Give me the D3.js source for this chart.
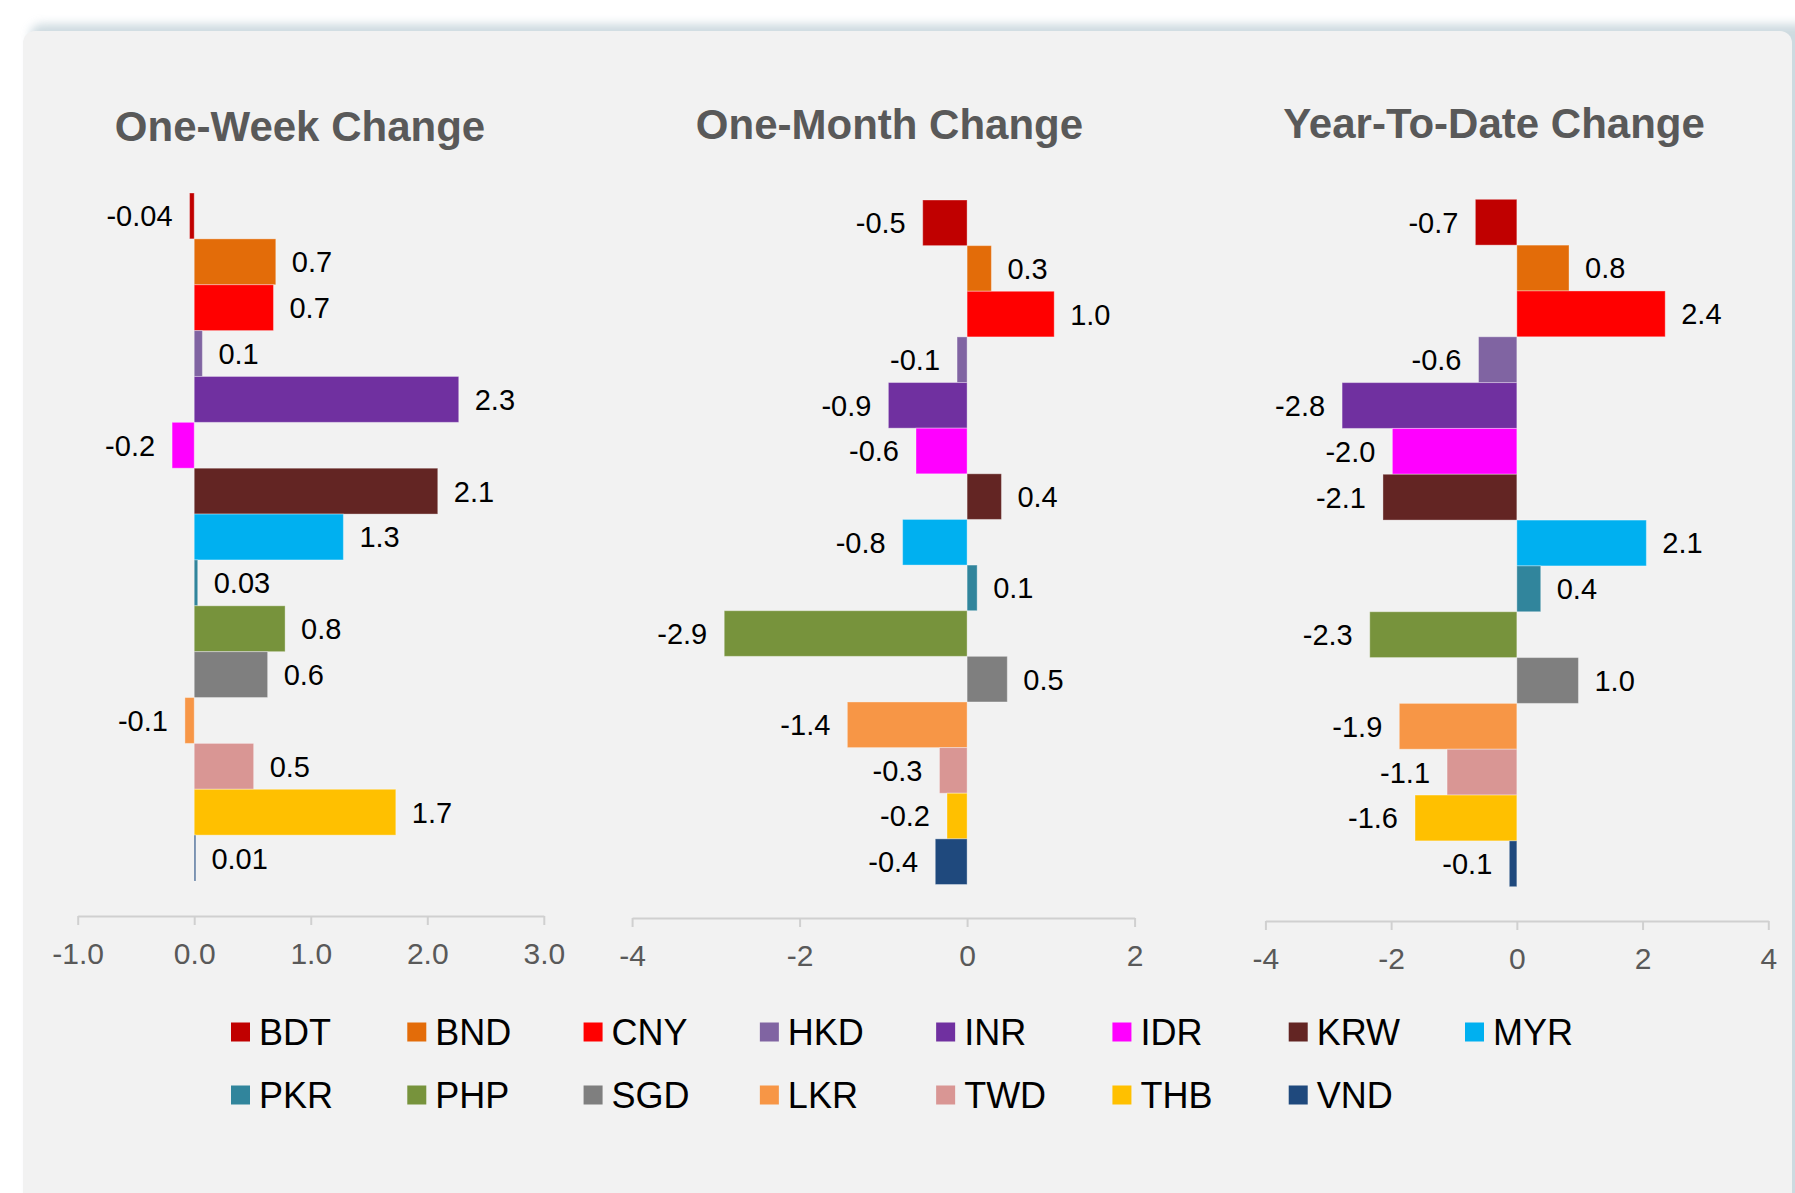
<!DOCTYPE html>
<html>
<head>
<meta charset="utf-8">
<script src="https://cdn.jsdelivr.net/npm/d3@7"></script>
<style>
  body { margin: 0; background: #fff; }
  svg text { font-family: "Liberation Sans", Arial, sans-serif; }
</style>
</head>
<body>
<svg width="1795" height="1193"></svg>
<script>
var currencies = ["BDT", "BND", "CNY", "HKD", "INR", "IDR", "KRW", "MYR", "PKR", "PHP", "SGD", "LKR", "TWD", "THB", "VND"];
var colors = ["#C00000", "#E36C09", "#FF0000", "#8064A2", "#7030A0", "#FF00FF", "#632523", "#00B0F0",
              "#31859C", "#77933C", "#7F7F7F", "#F79646", "#D99694", "#FFC000", "#1F497D"];

var weekChange  = [-0.04, 0.70, 0.68, 0.07, 2.27, -0.19, 2.09, 1.28, 0.03, 0.78, 0.63, -0.08, 0.51, 1.73, 0.01];
var monthChange = [-0.53, 0.29, 1.04, -0.12, -0.94, -0.61, 0.41, -0.77, 0.12, -2.90, 0.48, -1.43, -0.33, -0.24, -0.38];
var ytdChange   = [-0.66, 0.83, 2.36, -0.61, -2.78, -1.98, -2.13, 2.06, 0.38, -2.34, 0.98, -1.87, -1.11, -1.62, -0.12];

var titles = ["One-Week Change", "One-Month Change", "Year-To-Date Change"];
var weekTicks = [-1, 0, 1, 2, 3];
var monthTicks = [-4, -2, 0, 2];
var ytdTicks = [-4, -2, 0, 2, 4];

// plain hyphen for negatives, like the original
var loc = d3.formatLocale({decimal: ".", thousands: ",", grouping: [3], currency: ["", ""], minus: "-"});

var svg = d3.select("svg");
var defs = svg.append("defs");
defs.append("filter").attr("id", "blur")
  .attr("x", "-5%").attr("y", "-20%").attr("width", "110%").attr("height", "140%")
  .append("feGaussianBlur").attr("stdDeviation", 5);

// panel background with soft shadow on top
svg.append("rect").attr("x", 30).attr("y", 24).attr("width", 1800).attr("height", 1200)
  .attr("rx", 12).attr("fill", "#b9cbd3").attr("opacity", 0.7).attr("filter", "url(#blur)");
svg.append("rect").attr("x", 23).attr("y", 31).attr("width", 1769).attr("height", 1200)
  .attr("rx", 12).attr("fill", "#f2f2f2");

var panels = [
  {values: weekChange, ticks: weekTicks, fmt: loc.format(".1f"), domain: [-1, 3], range: [77.7, 543.8],
   band: [193, 881], axisY: 916, titleX: 300, titleY: 141},
  {values: monthChange, ticks: monthTicks, fmt: loc.format("d"), domain: [-4, 2], range: [632.1, 1134.6],
   band: [200, 884.5], axisY: 918, titleX: 889.5, titleY: 139},
  {values: ytdChange, ticks: ytdTicks, fmt: loc.format("d"), domain: [-4, 4], range: [1265.4, 1768.3],
   band: [199.3, 886.7], axisY: 921, titleX: 1494, titleY: 138}
];

function labelText(v) {
  return Math.abs(v) < 0.05 ? loc.format(".2f")(v) : loc.format(".1f")(v);
}

panels.forEach(function(p, k) {
  var x = d3.scaleLinear().domain(p.domain).range(p.range);
  var y = d3.scaleBand().domain(currencies).range(p.band).padding(0);
  var g = svg.append("g");

  g.append("text")
    .attr("x", p.titleX).attr("y", p.titleY)
    .attr("text-anchor", "middle")
    .attr("font-size", 42).attr("font-weight", "bold")
    .attr("fill", "#595959")
    .text(titles[k]);

  var data = currencies.map(function(c, i) { return {c: c, v: p.values[i], color: colors[i]}; });

  g.selectAll("rect.bar").data(data).enter().append("rect")
    .attr("class", "bar")
    .attr("x", function(d) { return x(Math.min(0, d.v)); })
    .attr("width", function(d) { return Math.max(1.5, Math.abs(x(d.v) - x(0))); })
    .attr("y", function(d) { return y(d.c); })
    .attr("height", y.bandwidth())
    .attr("fill", function(d) { return d.color; })
    .attr("stroke", "rgba(255,255,255,0.35)")
    .attr("stroke-width", 1);

  g.selectAll("text.lbl").data(data).enter().append("text")
    .attr("class", "lbl")
    .attr("x", function(d) { return d.v < 0 ? x(d.v) - 17 : x(d.v) + 16; })
    .attr("y", function(d) { return y(d.c) + y.bandwidth() / 2; })
    .attr("dy", "0.36em")
    .attr("text-anchor", function(d) { return d.v < 0 ? "end" : "start"; })
    .attr("font-size", 29)
    .attr("fill", "#000")
    .text(function(d) { return labelText(d.v); });

  var axis = g.append("g")
    .attr("transform", "translate(0," + p.axisY + ")")
    .call(d3.axisBottom(x).tickValues(p.ticks).tickFormat(p.fmt).tickSizeInner(9).tickSizeOuter(0).tickPadding(18));
  axis.select(".domain").attr("stroke", "#d0d0d0").attr("stroke-width", 2);
  axis.selectAll(".tick line").attr("stroke", "#d0d0d0").attr("stroke-width", 2);
  axis.selectAll(".tick text").attr("font-size", 30).attr("fill", "#595959")
    .attr("font-family", "Liberation Sans, Arial, sans-serif");
});

// legend
var legendX = d3.scalePoint().domain(d3.range(8)).range([231, 1465]);
var legendRows = [1032, 1095];
var legend = svg.append("g");
var items = legend.selectAll("g").data(currencies).enter().append("g")
  .attr("transform", function(d, i) {
    return "translate(" + legendX(i % 8) + "," + legendRows[Math.floor(i / 8)] + ")";
  });
items.append("rect").attr("x", 0).attr("y", -9.5).attr("width", 19).attr("height", 19)
  .attr("fill", function(d, i) { return colors[i]; });
items.append("text").attr("x", 28).attr("y", 0).attr("dy", "0.36em")
  .attr("font-size", 36).attr("fill", "#000")
  .text(function(d) { return d; });
</script>
</body>
</html>
